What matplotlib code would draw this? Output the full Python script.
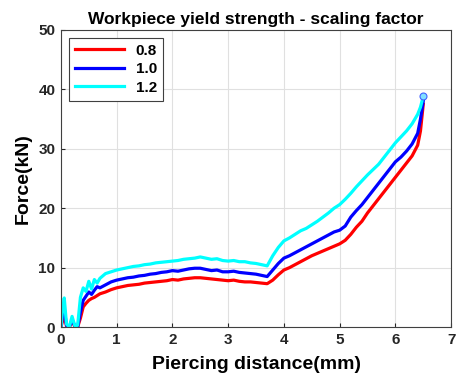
import matplotlib
matplotlib.use("Agg")
import matplotlib.pyplot as plt

plt.rcParams['font.family'] = ['Liberation Sans', 'DejaVu Sans']
plt.rcParams['font.weight'] = 'bold'

# piercing distance (mm)
dist = [0, 0.03, 0.06, 0.1, 0.15, 0.2, 0.25, 0.3, 0.35, 0.4, 0.45, 0.5, 0.55, 0.6,
        0.65, 0.7, 0.8, 0.9, 1.0, 1.1, 1.2, 1.3, 1.4, 1.5, 1.6, 1.7, 1.8, 1.9, 2.0,
        2.1, 2.2, 2.3, 2.4, 2.5, 2.6, 2.7, 2.8, 2.9, 3.0, 3.1, 3.2, 3.3, 3.4, 3.5,
        3.6, 3.7, 3.8, 3.9, 4.0, 4.1, 4.2, 4.3, 4.4, 4.5, 4.6, 4.7, 4.8, 4.9, 5.0,
        5.1, 5.2, 5.3, 5.4, 5.5, 5.6, 5.7, 5.8, 5.9, 6.0, 6.1, 6.2, 6.3, 6.4, 6.45, 6.5]

# force (kN) for each scaling factor
f_08 = [0, 1, 2, 0.2, 0, 1.0, 0.1, 0, 1.5, 3.4, 4.0, 4.5, 4.8, 5.0,
        5.3, 5.6, 5.9, 6.3, 6.6, 6.8, 7.0, 7.1, 7.2, 7.4, 7.5, 7.6, 7.7, 7.8, 8.0,
        7.9, 8.1, 8.2, 8.3, 8.3, 8.2, 8.1, 8.0, 7.9, 7.8, 7.9, 7.7, 7.6, 7.6, 7.5,
        7.4, 7.3, 7.9, 8.8, 9.6, 10.0, 10.5, 11.0, 11.5, 12.0, 12.4, 12.8, 13.2, 13.6, 14.0,
        14.6, 15.6, 16.8, 17.8, 19.2, 20.4, 21.6, 22.8, 24.0, 25.2, 26.4, 27.6, 28.8, 30.6, 33.0, 37.5]
f_10 = [0, 2, 3, 0.3, 0, 1.2, 0.2, 0, 2.5, 4.5, 5.2, 5.9, 5.5, 6.2,
        6.8, 6.6, 7.1, 7.6, 7.9, 8.1, 8.3, 8.4, 8.6, 8.7, 8.9, 9.0, 9.2, 9.3, 9.5,
        9.4, 9.6, 9.8, 9.9, 9.9, 9.7, 9.5, 9.6, 9.3, 9.3, 9.4, 9.2, 9.1, 9.0, 8.9,
        8.7, 8.5, 9.6, 10.7, 11.6, 12.0, 12.5, 13.0, 13.5, 14.0, 14.5, 15.0, 15.5, 16.0, 16.3,
        17.0, 18.5, 19.6, 20.6, 21.8, 23.0, 24.2, 25.4, 26.6, 27.8, 28.6, 29.6, 30.8, 32.6, 35.0, 38.0]
f_12 = [0, 3, 4.9, 0.5, 0, 1.8, 0.2, 0.3, 5.0, 6.6, 6.0, 7.7, 6.4, 8.0,
        7.4, 8.2, 9.0, 9.3, 9.6, 9.8, 10.0, 10.2, 10.3, 10.5, 10.6, 10.8, 10.9, 11.0, 11.1,
        11.2, 11.4, 11.5, 11.6, 11.8, 11.6, 11.4, 11.5, 11.2, 11.1, 11.2, 11.0, 11.0, 10.8, 10.7,
        10.5, 10.3, 12.0, 13.4, 14.5, 15.0, 15.6, 16.2, 16.6, 17.2, 17.8, 18.5, 19.2, 20.0, 20.6,
        21.5, 22.5, 23.6, 24.6, 25.6, 26.5, 27.4, 28.6, 29.8, 31.0, 32.0, 33.0, 34.2, 35.8, 37.0, 38.8]

labels = ['0.8', '1.0', '1.2']
colors = ['#ff0000', '#0000ff', '#00ffff']

fig = plt.figure(figsize=(4.58, 3.83), dpi=100)
ax = fig.add_axes([0.133, 0.146, 0.852, 0.776])

for f, lab, c in zip([f_08, f_10, f_12], labels, colors):
    ax.plot(dist, f, color=c, lw=2.3, label=lab)
# end marker
ax.plot(dist[-1], f_12[-1], 'o', ms=5, mfc='#80e0ff', mec='#4060ff', mew=0.8)

ax.set_xlim(0, 7)
ax.set_ylim(0, 50)
ax.set_xticks(range(0, 8))
ax.set_yticks(range(0, 51, 10))
ax.grid(True, color='#e0e0e0', lw=0.8)
ax.set_axisbelow(True)
for s in ax.spines.values():
    s.set_color('#404040')
ax.tick_params(direction='in', labelsize=11, colors='#262626', length=3, pad=4)
for t in ax.get_xticklabels() + ax.get_yticklabels():
    t.set_fontweight('bold')

ax.set_title('Workpiece yield strength - scaling factor', fontsize=12.5, fontweight='bold', pad=4)
ax.set_xlabel('Piercing distance(mm)', fontsize=14, fontweight='bold', labelpad=7)
ax.set_ylabel('Force(kN)', fontsize=14, fontweight='bold', labelpad=5)

leg = ax.legend(loc='upper left', prop={'weight': 'bold', 'size': 11},
                handlelength=3.2, fancybox=False, framealpha=1, edgecolor='#404040',
                borderaxespad=0.5, labelspacing=0.3)
leg.get_frame().set_linewidth(0.8)

fig.savefig('out.png', dpi=100)
